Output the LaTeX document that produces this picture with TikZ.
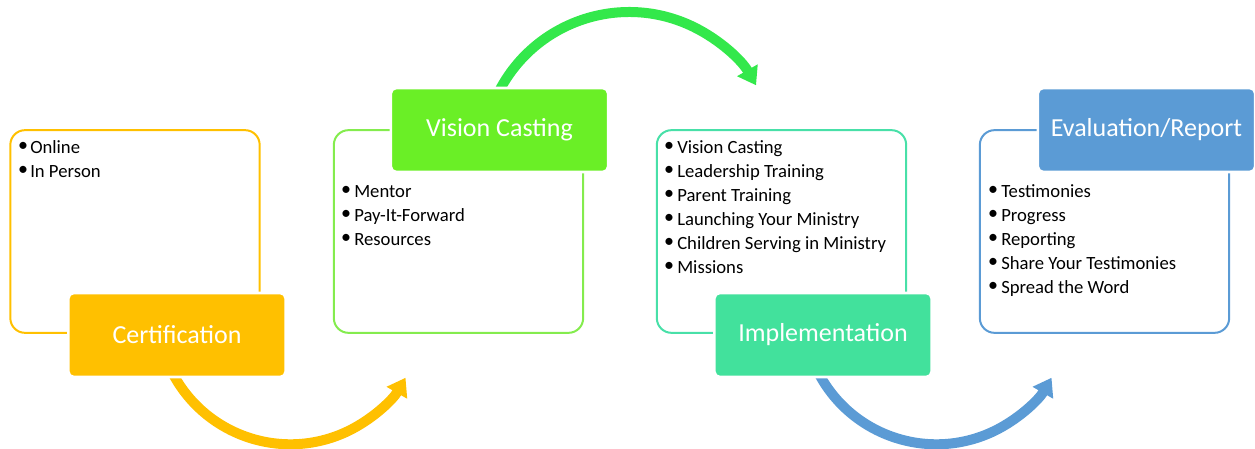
\documentclass[tikz,border=0pt]{standalone}
\usepackage{fontspec}
\setmainfont{Carlito}
\usepackage{xcolor}
\usetikzlibrary{arrows.meta,positioning}
\definecolor{CertYellow}{HTML}{FFC000}
\definecolor{VisionGreen}{HTML}{6AEF26}
\definecolor{VisionLine}{HTML}{84EC4E}
\definecolor{ArcGreen}{HTML}{33E84B}
\definecolor{ImplTeal}{HTML}{42E19C}
\definecolor{ImplLine}{HTML}{48E0A8}
\definecolor{EvalBlue}{HTML}{5B9BD5}

\begin{document}
\begin{tikzpicture}[x=0.75pt,y=-0.75pt,
    stagebox/.style={draw=#1,line width=1.5pt,rounded corners=11pt,minimum width=187pt,minimum height=152pt,inner sep=0pt},
    stagelabel/.style={fill=#1,draw=white,line width=2pt,rounded corners=4pt,minimum width=163pt,minimum height=63pt,inner sep=0pt,text=white,font=\fontsize{19.5}{23}\selectfont},
    dot/.style={inner sep=0pt,font=\fontsize{15}{18}\selectfont},
    item/.style={anchor=base west,inner sep=0pt,font=\fontsize{14}{18}\selectfont},
    bend arrow/.style={draw=#1,line width=7.5pt,-{Triangle[length=13pt,width=17pt]}}]
    \useasboundingbox (0,0) rectangle (1255,449);

    % outline boxes
    \node[stagebox=CertYellow] (cert box) at (135,231.5) {};
    \node[stagebox=VisionLine] (vision box) at (458.5,231.5) {};
    \node[stagebox=ImplLine] (impl box) at (781.5,231.5) {};
    \node[stagebox=EvalBlue] (eval box) at (1104.5,231.5) {};

    % curved arrows
    \coordinate (cert start) at (172.9,373.7);
    \coordinate (vision start) at (497.5,94.3);
    \coordinate (impl start) at (818.9,373.7);
    \draw[bend arrow=CertYellow] (cert start) arc[start angle=152,end angle=30,radius=133];
    \draw[bend arrow=ArcGreen] (vision start) arc[start angle=206,end angle=330,radius=146.5];
    \draw[bend arrow=EvalBlue] (impl start) arc[start angle=152,end angle=30,radius=133];

    % stage labels
    \node[stagelabel=CertYellow] (cert) at (177,335) {Certification};
    \node[stagelabel=VisionGreen] (vision) at (499.5,130) {Vision Casting};
    \node[stagelabel=ImplTeal] (impl) at (823,335) {Implementation};
    \node[stagelabel=EvalBlue] (eval) at (1146.5,130) {Evaluation/Report};

    % bullet lists
    \foreach \txt [count=\i from 0] in {Online,In Person}{
        \node[dot] (cert dot \i) at (23,147+24*\i) {\textbullet};
        \node[item] (cert item \i) at (30,153+24*\i) {\txt};
    }
    \foreach \txt [count=\i from 0] in {Mentor,Pay-It-Forward,Resources}{
        \node[dot] (vision dot \i) at (346,191+24*\i) {\textbullet};
        \node[item] (vision item \i) at (354,197+24*\i) {\txt};
    }
    \foreach \txt [count=\i from 0] in {Vision Casting,Leadership Training,Parent Training,Launching Your Ministry,Children Serving in Ministry,Missions}{
        \node[dot] (impl dot \i) at (669,147+24*\i) {\textbullet};
        \node[item] (impl item \i) at (677,153+24*\i) {\txt};
    }
    \foreach \txt [count=\i from 0] in {Testimonies,Progress,Reporting,Share Your Testimonies,Spread the Word}{
        \node[dot] (eval dot \i) at (993,191+24*\i) {\textbullet};
        \node[item] (eval item \i) at (1001,197+24*\i) {\txt};
    }
\end{tikzpicture}
\end{document}
